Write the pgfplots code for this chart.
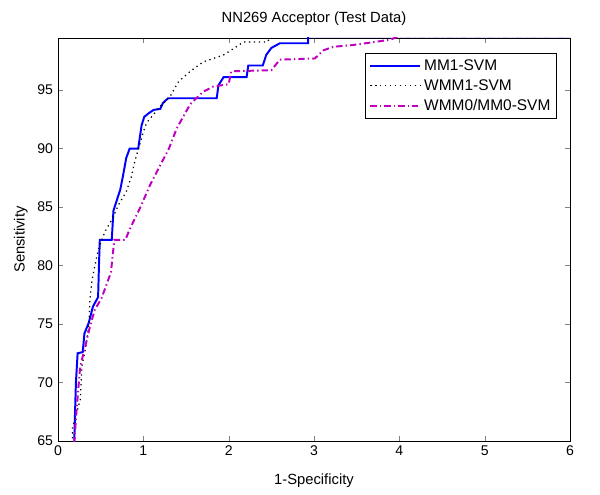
\documentclass[border=0pt]{standalone}
\usepackage{fontspec}
\setmainfont{Liberation Sans}
\usepackage{pgfplots}
\pgfplotsset{compat=1.18}
\definecolor{mmag}{rgb}{0.75,0,0.75}
\begin{document}
\begin{tikzpicture}
\path[use as bounding box] (0,0) rectangle (15cm,12.375cm);
\begin{axis}[
    at={(1.45cm,1.35cm)}, anchor=south west,
    width=12.8cm, height=10.075cm, scale only axis,
    xmin=0, xmax=6, ymin=65, ymax=99.45,
    xtick={0,1,...,6}, ytick={65,70,...,95},
    tick pos=both, tick align=inside,
    major tick length=0.12cm,
    axis line style={line width=0.6pt},
    tick label style={font=\fontsize{10}{11}\selectfont},
    label style={font=\fontsize{10.5}{12}\selectfont},
    /pgf/number format/assume math mode=true,
    title={NN269 Acceptor (Test Data)},
    title style={font=\fontsize{10.5}{12}\selectfont, yshift=-1pt},
    xlabel={1-Specificity}, ylabel={Sensitivity},
    xlabel style={yshift=-6pt},
    ylabel style={yshift=0pt},
    legend style={at={(0.975,0.963)}, anchor=north east,
        draw=black, line width=0.6pt, font=\fontsize{11}{13}\selectfont,
        row sep=0.8pt, inner sep=2.5pt},
    legend cell align=left,
    legend image code/.code={\draw[#1] (0cm,0cm) -- (1.25cm,0cm);},
]
\addplot[blue, line width=1.4pt] coordinates {
(0.19,64.8) (0.20,67.5) (0.21,70) (0.23,72.5) (0.29,72.6) (0.31,74.2)
(0.36,75.1) (0.41,76.5) (0.47,77.3) (0.48,80.0) (0.49,82.2) (0.63,82.2)
(0.65,84.7) (0.69,85.6) (0.73,86.5) (0.76,87.6) (0.80,89.2) (0.84,90.0)
(0.94,90.0) (0.96,91.0) (0.98,92.0) (1.01,92.7) (1.06,93.0) (1.12,93.3)
(1.20,93.4) (1.23,93.9) (1.29,94.3) (1.86,94.3) (1.88,95.4) (1.94,96.1)
(2.21,96.1) (2.23,97.1) (2.40,97.1) (2.44,98.0) (2.50,98.6) (2.60,99.0)
(2.93,99.0) (2.93,99.6) (6,99.6)
};
\addlegendentry{MM1-SVM}
\addplot[black, line width=0.9pt, dash pattern=on 0.9pt off 2.6pt] coordinates {
(0.17,64.8) (0.17,66.2) (0.26,68.5) (0.28,71.4) (0.32,72.8) (0.36,74.8)
(0.375,77.2) (0.40,78.8) (0.43,79.9) (0.47,81.3) (0.55,82.9) (0.63,83.9)
(0.71,85.2) (0.80,86.3) (0.86,87.6) (0.90,88.9) (0.94,89.9) (1.02,91.9)
(1.06,92.4) (1.21,93.7) (1.31,94.4) (1.41,95.7) (1.55,96.6) (1.70,97.4)
(1.94,98.0) (2.09,98.7) (2.17,99.1) (2.45,99.1) (2.50,99.6) (6,99.6)
};
\addlegendentry{WMM1-SVM}
\addplot[mmag, line width=1.4pt, dash pattern=on 4.5pt off 2.2pt on 1pt off 2.2pt] coordinates {
(0.19,64.8) (0.22,67.9) (0.26,71.35) (0.32,73.1) (0.375,74.8) (0.43,76.2)
(0.51,77.2) (0.57,78.4) (0.62,79.4) (0.64,80.8) (0.66,82.2) (0.79,82.2)
(0.84,83.1) (0.96,84.9) (1.08,86.9) (1.20,88.6) (1.30,90.0) (1.39,91.7)
(1.55,93.8) (1.70,94.85) (1.82,95.3) (2.00,95.5) (2.03,96.6) (2.50,96.7)
(2.60,97.6) (3.01,97.7) (3.11,98.4) (3.23,98.7) (3.46,98.85) (3.70,99.1)
(3.89,99.3) (4.0,99.6) (6,99.6)
};
\addlegendentry{WMM0/MM0-SVM}
\end{axis}
\end{tikzpicture}
\end{document}
